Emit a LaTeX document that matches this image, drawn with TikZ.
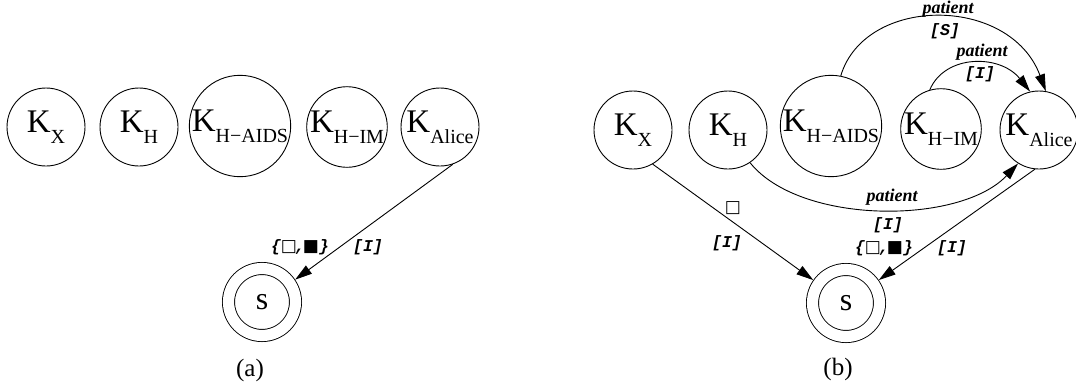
\documentclass[tikz,border=0pt]{standalone}
\usepackage{fontspec}
\setmainfont{Liberation Serif}
\setmonofont{Liberation Mono}
\newfontfamily\symfont{DejaVu Sans}
\usetikzlibrary{arrows.meta}

\newcommand{\Klab}[1]{K\raisebox{-11pt}{\fontsize{20}{20}\selectfont #1}}
\newcommand{\wsq}{{\symfont\fontsize{17}{17}\selectfont □}}
\newcommand{\bsq}{{\symfont\fontsize{17}{17}\selectfont ■}}

\begin{document}
\begin{tikzpicture}[x=1pt,y=-1pt,
  knode/.style={draw,circle,line width=0.9pt,minimum size=78pt,inner sep=0pt,
    font=\fontsize{33}{33}\selectfont},
  bigknode/.style={knode,minimum size=94pt},
  stnode/.style={draw,circle,line width=0.9pt,double,double distance=11.2pt,
    minimum size=67pt,inner sep=0pt,outer sep=6.5pt,font=\fontsize{32}{32}\selectfont},
  link/.style={line width=0.9pt,-{Triangle[length=17pt,width=10pt]}},
  pat/.style={inner sep=1pt,font=\fontsize{18}{18}\selectfont\bfseries\itshape},
  ann/.style={inner sep=1pt,font=\fontsize{16.5}{16.5}\selectfont\ttfamily\bfseries\itshape},
  sublabel/.style={font=\fontsize{25}{25}\selectfont}]
  \useasboundingbox (0,0) rectangle (1076,389);

  % (a)
  \node[knode] (kx1) at (46,127) {\Klab{X}};
  \node[knode] (kh1) at (139,127) {\Klab{H}};
  \node[bigknode] (kaids1) at (240,126) {\Klab{H−AIDS}};
  \node[knode] (kim1) at (347,127) {\Klab{H−IM}};
  \node[knode] (kal1) at (440,127) {\Klab{Alice}};
  \node[stnode] (s1) at (262,302) {s};
  \draw[link] (kal1.-71) -- (s1.34);
  \node[ann] (set1) at (300,247) {\{\wsq\kern-2pt,\kern-2pt\bsq\}};
  \node[ann] (i1) at (368,247) {[I]};
  \node[sublabel] (capa) at (250,370) {(a)};

  % (b)
  \node[knode] (kx2) at (633,130) {\Klab{X}};
  \node[knode] (kh2) at (728,130) {\Klab{H}};
  \node[bigknode] (kaids2) at (831,126) {\Klab{H−AIDS}};
  \node[knode] (kim2) at (941,129) {\Klab{H−IM}};
  \node[knode] (kal2) at (1039,130) {\Klab{Alice}};
  \node[stnode] (s2) at (846,303) {s};
  \draw[link] (kx2.-60) -- (s2.145);
  \draw[link] (kal2.-96) -- (s2.35);
  \draw[link] (kh2.-56) .. controls (800,225) and (960,225) .. (kal2.-122);
  \draw[link] (kaids2.79) .. controls (865,-5) and (1010,-5) .. (kal2.80);
  \draw[link] (kim2.106) .. controls (945,54) and (1000,54) .. (kal2.103);
  \node[ann] (sq2) at (733,208) {\wsq};
  \node[ann] (i2) at (727,243) {[I]};
  \node[pat] (p1) at (892,197) {patient};
  \node[ann] (i3) at (888,225) {[I]};
  \node[ann] (set2) at (884,248) {\{\wsq\kern-2pt,\kern-2pt\bsq\}};
  \node[ann] (i4) at (952,248) {[I]};
  \node[pat] (p2) at (948,9) {patient};
  \node[ann] (s3) at (945,31) {[S]};
  \node[pat] (p3) at (982,52) {patient};
  \node[ann] (i5) at (980,74) {[I]};
  \node[sublabel] (capb) at (838,369) {(b)};
\end{tikzpicture}
\end{document}
